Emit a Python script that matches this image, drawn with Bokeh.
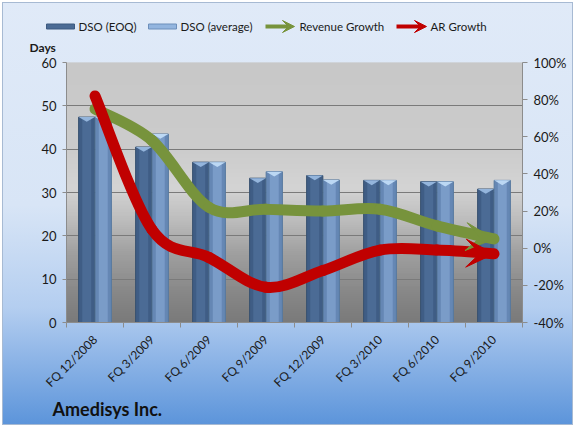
import numpy as np
from bokeh.plotting import figure
from bokeh.layouts import column
from bokeh.models import (Range1d, LinearAxis, FixedTicker, Arrow, VeeHead,
                          CustomJSTickFormatter, PrintfTickFormatter)
from bokeh.core.properties import value
from bokeh.embed import file_html
from bokeh.resources import INLINE

# ---------------- data ----------------
quarters = ["FQ 12/2008", "FQ 3/2009", "FQ 6/2009", "FQ 9/2009",
            "FQ 12/2009", "FQ 3/2010", "FQ 6/2010", "FQ 9/2010"]
dso_eoq = [47.4, 40.5, 37.0, 33.3, 33.9, 32.8, 32.5, 30.8]
dso_avg = [47.4, 43.5, 37.0, 34.8, 32.9, 32.8, 32.5, 32.8]
revenue_growth = [75, 58, 22, 21, 20, 21, 12, 5]
ar_growth = [82, 10, -5, -21, -12, -1, -1, -3]
days_ticks = [0, 10, 20, 30, 40, 50, 60]
pct_ticks = [-40, -20, 0, 20, 40, 60, 80, 100]

FONT = "Lato"
W = 575
TOP_H, MAIN_H, BOT_H = 54, 344, 29
GREEN = "#77933c"
RED = "#c00000"
DARK = "#4b6b95"
LIGHT = "#7a9cc8"


def no_align(f):
    try:
        f.frame_align = False
    except Exception:
        pass


def bare(h):
    f = figure(width=W, height=h, output_backend="svg", toolbar_location=None,
               x_range=Range1d(0, W), y_range=Range1d(h, 0),
               x_axis_type=None, y_axis_type=None,
               min_border=0, min_border_left=0, min_border_right=0,
               min_border_top=0, min_border_bottom=0)
    f.border_fill_alpha = 0
    f.background_fill_alpha = 0
    f.outline_line_color = None
    f.xgrid.visible = False
    f.ygrid.visible = False
    no_align(f)
    return f


# ---------------- top strip: legend + "Days" ----------------
top = bare(TOP_H)
LY = 26
top.quad(left=[46, 148], right=[74, 176], top=[LY - 2.5, LY - 2.5], bottom=[LY + 2.5, LY + 2.5],
         fill_color=[DARK, "#93b5df"], line_color=["#3d5a80", "#6d8fbb"])
top.text(x=[78, 180, 299, 430], y=[LY] * 4,
         text=["DSO (EOQ)", "DSO (average)", "Revenue Growth", "AR Growth"],
         text_font=value(FONT), text_font_size="11.5px", text_color="#1a1a1a",
         text_baseline="middle")
top.add_layout(Arrow(end=VeeHead(size=12, fill_color=GREEN, line_color=GREEN),
                     x_start=265, y_start=LY, x_end=294, y_end=LY,
                     line_color=GREEN, line_width=4))
top.add_layout(Arrow(end=VeeHead(size=12, fill_color=RED, line_color=RED),
                     x_start=396, y_start=LY, x_end=426, y_end=LY,
                     line_color=RED, line_width=4))
top.text(x=[29], y=[47], text=["Days"], text_font=value(FONT), text_font_size="12px",
         text_font_style="bold", text_color="#1a1a1a", text_baseline="middle")

# ---------------- main chart ----------------
p = figure(width=W, height=MAIN_H, output_backend="svg", toolbar_location=None,
           x_range=Range1d(0, len(quarters)), y_range=Range1d(0, 60),
           min_border_left=66, min_border_right=53, min_border_top=8,
           min_border_bottom=76)
no_align(p)
p.extra_y_ranges = {"pct": Range1d(-40, 100)}
p.border_fill_alpha = 0
p.background_fill_color = "#c8c8c8"
p.outline_line_color = None

# plot-area gradient (style only)
stops_v = [0, 8, 16, 24, 31, 40, 60]
stops_g = [122, 138, 160, 190, 212, 204, 200]
bot = np.arange(0, 60, 0.5)
g = np.interp(bot + 0.25, stops_v, stops_g).astype(int)
cols = ["#%02x%02x%02x" % (v, v, v) for v in g]
p.quad(left=0, right=len(quarters), bottom=bot, top=np.minimum(bot + 0.75, 60),
       fill_color=cols, line_color=None, level="image")

p.xgrid.visible = False
p.ygrid.ticker = FixedTicker(ticks=days_ticks)
p.ygrid.grid_line_color = "#7a7a7a"

centers = np.arange(len(quarters)) + 0.5

xa = p.xaxis[0]
xa.ticker = FixedTicker(ticks=list(centers), minor_ticks=list(range(len(quarters) + 1)))
xa.formatter = CustomJSTickFormatter(args=dict(labels=quarters),
                                     code="return labels[Math.floor(tick)] || '';")
xa.major_tick_out = 0
xa.major_tick_in = 0
xa.minor_tick_out = 5
xa.minor_tick_in = 0
xa.minor_tick_line_color = "#8c8c8c"
xa.axis_line_color = "#8c8c8c"
xa.major_label_orientation = np.pi / 4
xa.major_label_standoff = 10
xa.major_label_text_font = FONT
xa.major_label_text_font_size = "12px"
xa.major_label_text_color = "#1a1a1a"

ya = p.yaxis[0]
ya.ticker = FixedTicker(ticks=days_ticks)
ya.major_tick_out = 4
ya.major_tick_in = 0
ya.minor_tick_out = 0
ya.minor_tick_in = 0
ya.axis_line_color = "#8c8c8c"
ya.major_tick_line_color = "#8c8c8c"
ya.major_label_standoff = 6
ya.major_label_text_font = FONT
ya.major_label_text_font_size = "13px"
ya.major_label_text_color = "#1a1a1a"

ra = LinearAxis(y_range_name="pct", ticker=FixedTicker(ticks=pct_ticks),
                formatter=PrintfTickFormatter(format="%d%%"))
ra.major_tick_out = 5
ra.major_tick_in = 0
ra.minor_tick_out = 0
ra.minor_tick_in = 0
ra.axis_line_color = "#8c8c8c"
ra.major_tick_line_color = "#8c8c8c"
ra.major_label_standoff = 6
ra.major_label_text_font = FONT
ra.major_label_text_font_size = "13px"
ra.major_label_text_color = "#1a1a1a"
p.add_layout(ra, "right")

# bars
bw = 0.285
off = 0.145
xd = centers - off
xl = centers + off
p.vbar(x=xd, top=dso_eoq, width=bw, fill_color="#3f5d85", line_color="#36506f")
p.vbar(x=xd, top=dso_eoq, width=bw * 0.55, fill_color=DARK, line_color=None)
p.vbar(x=xl, top=dso_avg, width=bw, fill_color="#6587b4", line_color="#56789f")
p.vbar(x=xl, top=dso_avg, width=bw * 0.55, fill_color=LIGHT, line_color=None)
cap_h = 1.1
p.patches(xs=[[x - bw / 2, x + bw / 2, x] for x in xd],
          ys=[[t, t, t - cap_h] for t in dso_eoq],
          fill_color="#94b5dc", line_color=None)
p.patches(xs=[[x - bw / 2, x + bw / 2, x] for x in xl],
          ys=[[t, t, t - cap_h] for t in dso_avg],
          fill_color="#bcd8f4", line_color=None)


def bezier_segments(xs, ys, k=1.0):
    n = len(xs)
    P = list(zip(xs, ys))
    out = dict(x0=[], y0=[], x1=[], y1=[], cx0=[], cy0=[], cx1=[], cy1=[])
    for i in range(n - 1):
        p0 = P[i - 1] if i > 0 else P[i]
        p1 = P[i]
        p2 = P[i + 1]
        p3 = P[i + 2] if i + 2 < n else P[i + 1]
        out["x0"].append(p1[0]); out["y0"].append(p1[1])
        out["x1"].append(p2[0]); out["y1"].append(p2[1])
        out["cx0"].append(p1[0] + (p2[0] - p0[0]) / 6 * k)
        out["cy0"].append(p1[1] + (p2[1] - p0[1]) / 6 * k)
        out["cx1"].append(p2[0] - (p3[0] - p1[0]) / 6 * k)
        out["cy1"].append(p2[1] - (p3[1] - p1[1]) / 6 * k)
    return out


for series, color in ((revenue_growth, GREEN), (ar_growth, RED)):
    seg = bezier_segments(list(centers), series)
    p.bezier(y_range_name="pct", line_color=color, line_width=11, line_cap="round",
             **seg)
    head = VeeHead(size=28, fill_color=color, fill_alpha=1.0, line_color=color,
                   line_width=1)
    p.add_layout(Arrow(end=head, x_start=seg["cx1"][-1] - 0.3, y_start=seg["cy1"][-1],
                       x_end=seg["x1"][-1], y_end=seg["y1"][-1],
                       y_range_name="pct", line_alpha=0))

# ---------------- bottom strip: company name ----------------
bottom = bare(BOT_H)
bottom.text(x=[52], y=[10], text=["Amedisys Inc."], text_font=value(FONT),
            text_font_size="18px", text_font_style="bold", text_color="#111111",
            text_baseline="middle")

layout = column(top, p, bottom, spacing=0)
layout.styles = {
    "background": "linear-gradient(to bottom, #e0eaf8 0%, #d8e5f6 48%, #b4cef0 72%, #5a93da 100%)",
    "box-shadow": "inset 0 0 0 2px #ffffff, inset 0 0 0 3px #a7bad3",
}

open("out.html", "w").write(file_html(layout, INLINE))
